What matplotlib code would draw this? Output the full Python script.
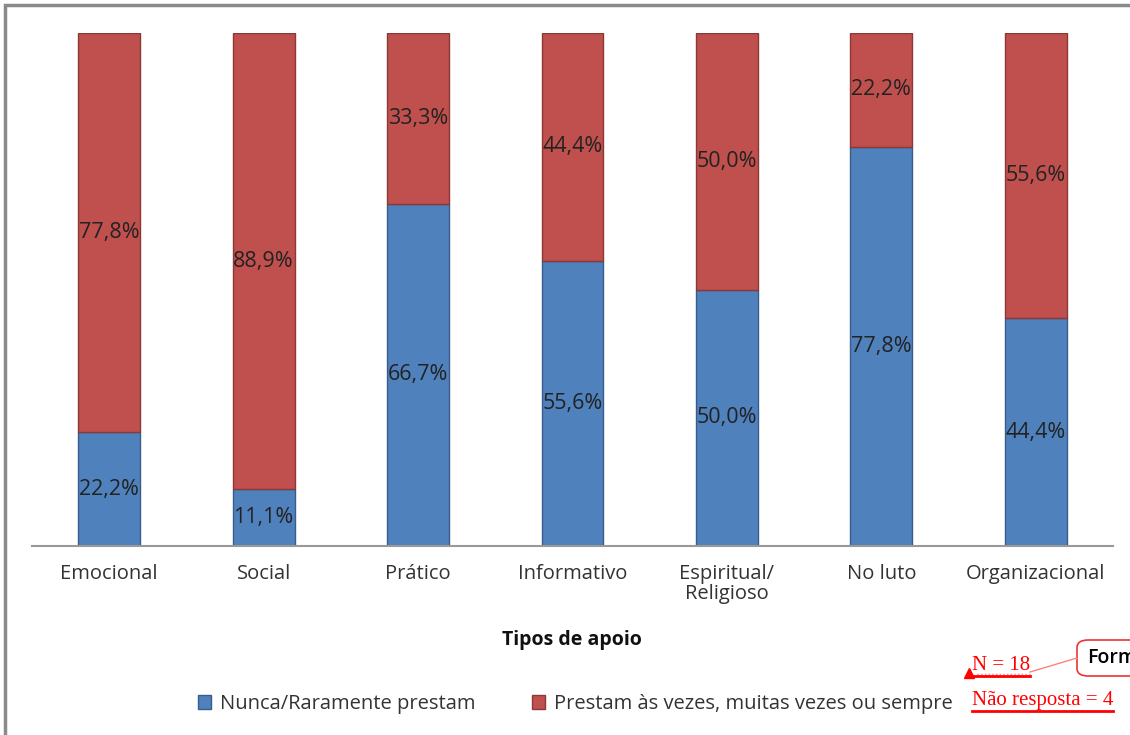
import matplotlib.pyplot as plt
from matplotlib.patches import Rectangle, FancyBboxPatch
from matplotlib.lines import Line2D

categories = ['Emocional', 'Social', 'Prático', 'Informativo', 'Espiritual/\nReligioso', 'No luto', 'Organizacional']
nunca = [22.2, 11.1, 66.7, 55.6, 50.0, 77.8, 44.4]
prestam = [77.8, 88.9, 33.3, 44.4, 50.0, 22.2, 55.6]
series_names = ['Nunca/Raramente prestam', 'Prestam às vezes, muitas vezes ou sempre']

W, H = 1130, 735
plt.rcParams['font.family'] = ['Open Sans', 'DejaVu Sans']
fig = plt.figure(figsize=(W / 100, H / 100), dpi=100)


def fx(x):
    return x / W


def fy(y):
    return 1 - y / H


ax = fig.add_axes([fx(32), fy(546), fx(1113) - fx(32), fy(33) - fy(546)])
pos = range(len(categories))
b1 = ax.bar(pos, nunca, width=0.4, color='#4F81BD', edgecolor='#385D8A', linewidth=1, label=series_names[0])
b2 = ax.bar(pos, prestam, width=0.4, bottom=nunca, color='#C0504D', edgecolor='#8C3836', linewidth=1, label=series_names[1])

for i in pos:
    ax.text(i, nunca[i] / 2, f"{nunca[i]:.1f}%".replace('.', ','), ha='center', va='center', fontsize=15.5, color='#222222')
    ax.text(i, nunca[i] + prestam[i] / 2, f"{prestam[i]:.1f}%".replace('.', ','), ha='center', va='center', fontsize=15.5, color='#222222')

ax.set_xlim(-0.5, 6.5)
ax.set_ylim(0, 100)
ax.set_xticks(list(pos))
ax.set_xticklabels(categories, fontsize=14.5, color='#333333', linespacing=1.0)
ax.tick_params(axis='x', length=0, pad=13)
ax.set_yticks([])
for s in ['top', 'right', 'left']:
    ax.spines[s].set_visible(False)
ax.spines['bottom'].set_color('#999999')
ax.spines['bottom'].set_linewidth(1.5)

fig.text(fx(572), fy(640), 'Tipos de apoio', ha='center', va='center', fontsize=14, fontweight='bold', color='#111111')

fig.legend(handles=[b1, b2], labels=series_names, loc='center', bbox_to_anchor=(fx(575), fy(704)),
           ncol=2, frameon=False, fontsize=14.5, handlelength=0.65, handleheight=0.65,
           handletextpad=0.45, columnspacing=2.8, labelcolor='#333333')

# outer chart frame
fig.patches.append(Rectangle((fx(5), fy(H + 20)), 2, fy(5) - fy(H + 20), transform=fig.transFigure,
                             fill=False, edgecolor='#8a8a8a', linewidth=2.5))

# red notes
t1 = fig.text(fx(972), fy(670), 'N = 18', fontsize=15, color='red', family='Liberation Serif', va='baseline')
t2 = fig.text(fx(972), fy(705), 'Não resposta = 4', fontsize=15, color='red', family='Liberation Serif', va='baseline')

box = FancyBboxPatch((fx(1077), fy(676)), 0.1, fy(640) - fy(676), transform=fig.transFigure,
                     boxstyle='round,pad=0,rounding_size=0.01', facecolor='white', edgecolor='#ee3333', linewidth=1.2)
fig.patches.append(box)
fig.text(fx(1087), fy(658), 'Form', fontsize=14, fontweight='semibold', color='black', va='center')
fig.lines.append(Line2D([fx(1077), fx(1030)], [fy(658), fy(672)], transform=fig.transFigure, color='#ff8080', linewidth=1))
fig.lines.append(Line2D([fx(1030), fx(975)], [fy(674), fy(674)], transform=fig.transFigure, color='#ff8080', linewidth=1, linestyle=':'))
fig.lines.append(Line2D([fx(969)], [fy(673)], transform=fig.transFigure, marker='^', color='red', markersize=7))

fig.canvas.draw()
for t in (t1, t2):
    bb = t.get_window_extent()
    fig.lines.append(Line2D([bb.x0, bb.x1], [bb.y0 - 1, bb.y0 - 1], transform=None, color='red', linewidth=2))

fig.savefig('out.png', dpi=100)
